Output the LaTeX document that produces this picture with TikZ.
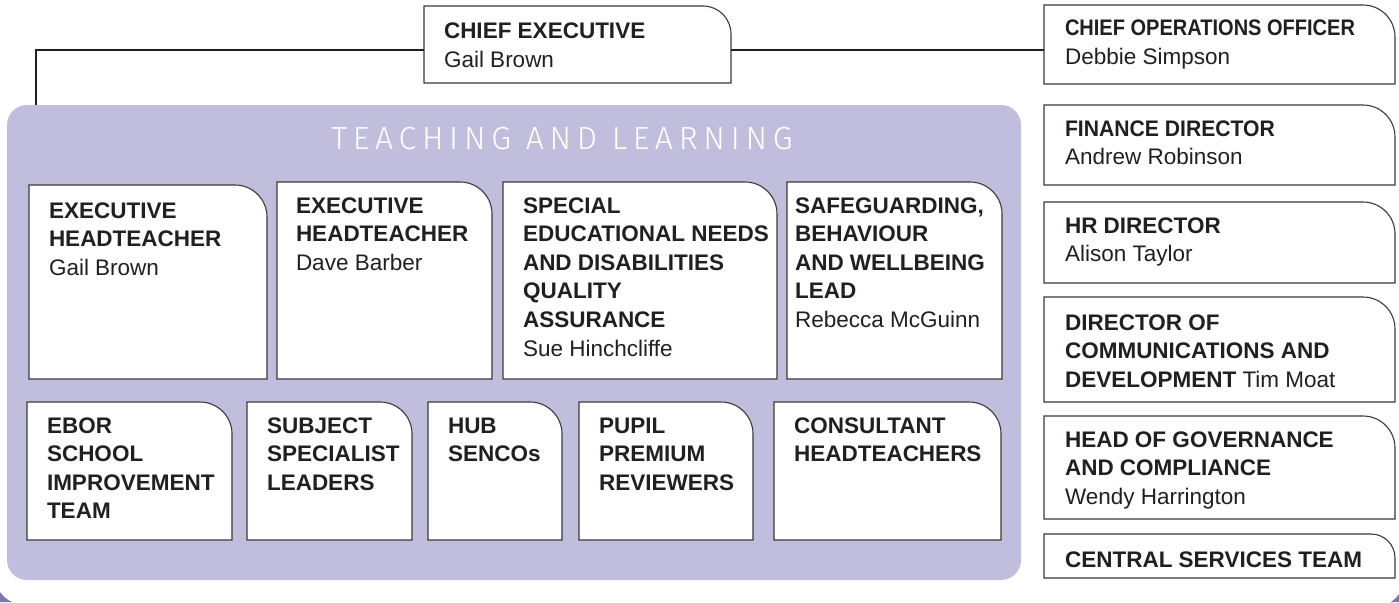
\documentclass[tikz,border=0pt]{standalone}
\usepackage{fontspec}
\usepackage{graphicx}
\setmainfont{Liberation Sans}
\newfontfamily\thinfont{Fira Sans Light}[LetterSpace=18]
\usetikzlibrary{calc}
\definecolor{panel}{HTML}{C1BDDC}
\definecolor{edge}{HTML}{3A3A3A}
\definecolor{ink}{HTML}{231F20}
\definecolor{deep}{HTML}{7E76B4}
\tikzset{
  boxnode/.style={inner sep=0pt, outer sep=0pt, anchor=north west},
  boxline/.style={draw=edge, line width=1.1pt, fill=white},
  conn/.style={draw=ink, line width=1.8pt},
  txt/.style={inner sep=0pt, outer sep=0pt, anchor=base west, text=ink, font=\fontsize{22.5}{28.6}\selectfont},
}
% #1 name, #2 x, #3 y, #4 w, #5 h, #6 radius, #7 control length
\newcommand\orgbox[7]{%
  \node[boxnode, minimum width=#4pt, minimum height=#5pt] (#1) at (#2,#3) {};
  \path[boxline] (#1.north west) -- ($(#1.north east)+(-#6,0)$)
    .. controls ($(#1.north east)+(-#6+#7,0)$) and ($(#1.north east)+(0,#6-#7)$) .. ($(#1.north east)+(0,#6)$)
    -- (#1.south east) -- (#1.south west) -- cycle;
}
% #1 name, #2 box, #3 dx, #4 dy (first baseline), #5 text
\newcommand\orgtext[5]{%
  \node[txt] (#1) at ($(#2.north west)+(#3,#4)$) {\parbox[t]{420pt}{\raggedright #5}};
}
\begin{document}
\begin{tikzpicture}[x=1pt,y=-1pt]
\useasboundingbox (0,0) rectangle (1399,602);
\fill[white] (0,0) rectangle (1399,602);

% bottom corner fragments
\fill[deep] (0,592) .. controls (3,596) and (7,600) .. (12,602) -- (0,602) -- cycle;
\fill[deep] (1399,594) .. controls (1396,598) and (1394,600) .. (1391,602) -- (1399,602) -- cycle;

% panel
\node[boxnode, fill=panel, rounded corners=20pt, minimum width=1014pt, minimum height=475pt] (panel) at (7,105) {};
\node[font=\thinfont\fontsize{32}{32}\selectfont, text=white, anchor=base, inner sep=0pt] (title) at (562,149) {TEACHING AND LEARNING};

% chief executive
\orgbox{ce}{424}{6}{307}{77}{28}{15.5}
\orgtext{cet}{ce}{20}{33}{\textbf{CHIEF EXECUTIVE}\\Gail Brown}

% connectors
\coordinate (jl) at (36,50);
\draw[conn] (ce.west |- jl) -| (jl |- panel.north);

% right column
\orgbox{coo}{1044}{5}{351}{79}{32}{17.7}
\orgtext{coot}{coo}{21}{31}{\scalebox{0.89}[1]{\textbf{CHIEF OPERATIONS OFFICER}}\\Debbie Simpson}
\draw[conn] (ce.east |- jl) -- (coo.west |- jl);

\orgbox{fin}{1044}{105}{351}{80}{32}{17.7}
\orgtext{fint}{fin}{21}{31}{\scalebox{0.94}[1]{\textbf{FINANCE DIRECTOR}}\\Andrew Robinson}

\orgbox{hr}{1044}{202}{351}{81}{32}{17.7}
\orgtext{hrt}{hr}{21}{31}{\textbf{HR DIRECTOR}\\Alison Taylor}

\orgbox{dir}{1044}{297}{351}{105}{32}{17.7}
\orgtext{dirt}{dir}{21}{33}{\textbf{DIRECTOR OF}\\\textbf{COMMUNICATIONS AND}\\\textbf{DEVELOPMENT} Tim Moat}

\orgbox{gov}{1044}{416}{351}{103}{32}{17.7}
\orgtext{govt}{gov}{21}{31}{\textbf{HEAD OF GOVERNANCE}\\\textbf{AND COMPLIANCE}\\Wendy Harrington}

\orgbox{cst}{1044}{534}{351}{44}{24}{13.3}
\orgtext{cstt}{cst}{21}{33}{\textbf{CENTRAL SERVICES TEAM}}

% top row inside panel
\orgbox{ba}{29}{185}{238}{194}{32}{17.7}
\orgtext{bat}{ba}{20}{33}{\textbf{EXECUTIVE}\\\textbf{HEADTEACHER}\\Gail Brown}

\orgbox{bb}{277}{182}{215}{197}{32}{17.7}
\orgtext{bbt}{bb}{19}{31}{\textbf{EXECUTIVE}\\\textbf{HEADTEACHER}\\Dave Barber}

\orgbox{bc}{503}{182}{274}{197}{32}{17.7}
\orgtext{bct}{bc}{20}{31}{\textbf{SPECIAL}\\\textbf{EDUCATIONAL NEEDS}\\\textbf{AND DISABILITIES}\\\textbf{QUALITY}\\\textbf{ASSURANCE}\\Sue Hinchcliffe}

\orgbox{bd}{787}{182}{215}{197}{32}{17.7}
\orgtext{bdt}{bd}{8}{31}{\textbf{SAFEGUARDING,}\\\textbf{BEHAVIOUR}\\\textbf{AND WELLBEING}\\\textbf{LEAD}\\Rebecca McGuinn}

% bottom row inside panel
\orgbox{ra}{27}{402}{205}{138}{32}{17.7}
\orgtext{rat}{ra}{20}{31}{\textbf{EBOR}\\\textbf{SCHOOL}\\\textbf{IMPROVEMENT}\\\textbf{TEAM}}

\orgbox{rb}{247}{402}{165}{138}{32}{17.7}
\orgtext{rbt}{rb}{20}{31}{\textbf{SUBJECT}\\\textbf{SPECIALIST}\\\textbf{LEADERS}}

\orgbox{rc}{428}{402}{134}{138}{32}{17.7}
\orgtext{rct}{rc}{20}{31}{\textbf{HUB}\\\textbf{SENCOs}}

\orgbox{rd}{579}{402}{174}{138}{32}{17.7}
\orgtext{rdt}{rd}{20}{31}{\textbf{PUPIL}\\\textbf{PREMIUM}\\\textbf{REVIEWERS}}

\orgbox{re}{774}{402}{227}{138}{32}{17.7}
\orgtext{ret}{re}{20}{31}{\textbf{CONSULTANT}\\\textbf{HEADTEACHERS}}
\end{tikzpicture}
\end{document}
